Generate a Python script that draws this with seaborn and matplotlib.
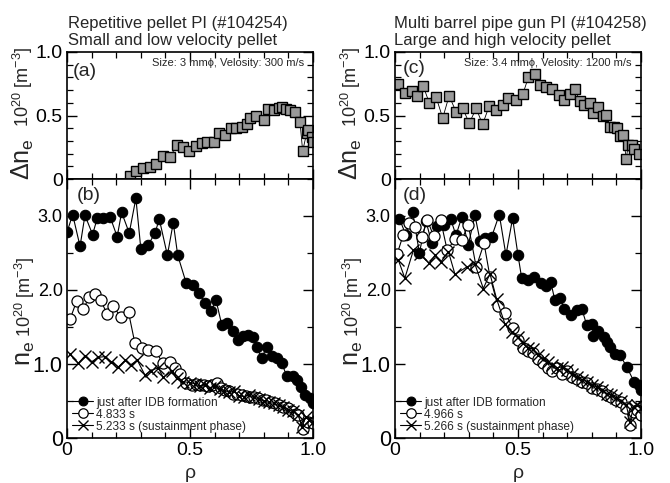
import matplotlib
matplotlib.use("Agg")
import matplotlib.pyplot as plt
from matplotlib.ticker import MultipleLocator, FixedLocator
import seaborn as sns

# ---------------- data ----------------
# (a) repetitive pellet: delta n_e
rho_a = [0.256, 0.28, 0.31, 0.337, 0.362, 0.39, 0.419, 0.448, 0.47, 0.497, 0.524, 0.547, 0.57,
         0.598, 0.619, 0.642, 0.667, 0.687, 0.71, 0.73, 0.744, 0.768, 0.80, 0.818, 0.84, 0.86,
         0.873, 0.89, 0.906, 0.927, 0.947, 0.958, 0.974, 0.98, 0.995, 1.0]
dn_a = [0.026, 0.063, 0.09, 0.097, 0.12, 0.18, 0.176, 0.27, 0.25, 0.22, 0.26, 0.28, 0.29,
        0.29, 0.36, 0.35, 0.40, 0.40, 0.41, 0.43, 0.48, 0.50, 0.465, 0.55, 0.54, 0.56,
        0.57, 0.55, 0.54, 0.53, 0.45, 0.22, 0.36, 0.385, 0.33, 0.29]

# (c) multi barrel pipe gun: delta n_e
rho_c = [0.013, 0.04, 0.068, 0.09, 0.115, 0.14, 0.167, 0.194, 0.22, 0.248, 0.275, 0.302, 0.33,
         0.356, 0.383, 0.41, 0.438, 0.46, 0.49, 0.52, 0.542, 0.57, 0.59, 0.614, 0.64, 0.668,
         0.687, 0.71, 0.73, 0.752, 0.768, 0.793, 0.804, 0.827, 0.844, 0.858, 0.874, 0.89,
         0.904, 0.915, 0.928, 0.94, 0.948, 0.962, 0.972, 0.99]
dn_c = [0.75, 0.675, 0.695, 0.65, 0.73, 0.595, 0.645, 0.48, 0.655, 0.53, 0.556, 0.44, 0.556,
        0.43, 0.575, 0.545, 0.58, 0.635, 0.62, 0.67, 0.80, 0.825, 0.74, 0.725, 0.71, 0.66,
        0.62, 0.67, 0.71, 0.615, 0.58, 0.595, 0.52, 0.57, 0.50, 0.505, 0.41, 0.41,
        0.40, 0.335, 0.345, 0.155, 0.27, 0.27, 0.24, 0.20]

# (b) n_e profiles, shot #104254
rho_b1 = [0.0, 0.023, 0.053, 0.073, 0.104, 0.123, 0.148, 0.175, 0.204, 0.222, 0.253, 0.28, 0.30,
          0.33, 0.358, 0.375, 0.408, 0.432, 0.45, 0.484, 0.511, 0.538, 0.561, 0.584, 0.606,
          0.629, 0.652, 0.673, 0.696, 0.717, 0.737, 0.757, 0.771, 0.791, 0.812, 0.832, 0.852,
          0.873, 0.893, 0.917, 0.934, 0.95, 0.967, 0.988, 1.0]
n_b1 = [2.78, 3.02, 2.59, 3.01, 2.75, 2.97, 2.97, 2.99, 2.72, 3.05, 2.77, 3.24, 2.56,
        2.61, 2.77, 2.96, 2.47, 2.91, 2.47, 2.10, 2.07, 1.96, 1.82, 1.71, 1.86,
        1.53, 1.56, 1.45, 1.33, 1.38, 1.39, 1.37, 1.23, 1.08, 1.23, 1.11, 1.08,
        1.01, 0.84, 0.84, 0.78, 0.69, 0.58, 0.535, 0.47]

rho_b2 = [0.013, 0.039, 0.066, 0.09, 0.114, 0.137, 0.164, 0.188, 0.218, 0.25, 0.276, 0.304,
          0.33, 0.362, 0.389, 0.419, 0.439, 0.459, 0.484, 0.51, 0.525, 0.54, 0.555, 0.574,
          0.59, 0.61, 0.625, 0.642, 0.66, 0.676, 0.693, 0.71, 0.727, 0.744, 0.76, 0.778,
          0.795, 0.81, 0.828, 0.846, 0.863, 0.88, 0.897, 0.913, 0.93, 0.94, 0.96, 0.98, 1.0]
n_b2 = [1.61, 1.85, 1.74, 1.90, 1.94, 1.86, 1.67, 1.79, 1.63, 1.70, 1.28, 1.21,
        1.19, 1.17, 1.01, 1.03, 0.94, 0.87, 0.74, 0.72, 0.73, 0.72, 0.71, 0.70,
        0.72, 0.74, 0.68, 0.65, 0.63, 0.60, 0.60, 0.58, 0.57, 0.56, 0.56, 0.54,
        0.52, 0.51, 0.49, 0.47, 0.45, 0.42, 0.40, 0.36, 0.33, 0.31, 0.12, 0.22, 0.20]

rho_b3 = [0.012, 0.046, 0.073, 0.10, 0.127, 0.154, 0.18, 0.209, 0.236, 0.259, 0.286, 0.317,
          0.34, 0.371, 0.391, 0.426, 0.446, 0.473, 0.50, 0.52, 0.54, 0.56, 0.58, 0.60, 0.62,
          0.64, 0.66, 0.68, 0.70, 0.72, 0.74, 0.76, 0.78, 0.80, 0.82, 0.84, 0.86, 0.88, 0.90,
          0.92, 0.94, 0.955, 0.97, 0.985, 1.0]
n_b3 = [1.13, 1.01, 1.11, 1.03, 1.09, 1.10, 1.03, 0.96, 1.05, 0.99, 1.05, 0.85,
        0.91, 0.95, 0.82, 0.90, 0.81, 0.76, 0.75, 0.73, 0.70, 0.72, 0.68, 0.70, 0.66,
        0.64, 0.62, 0.63, 0.57, 0.56, 0.58, 0.55, 0.53, 0.50, 0.48, 0.47, 0.44, 0.42, 0.38,
        0.36, 0.31, 0.15, 0.28, 0.25, 0.22]

# (d) n_e profiles, shot #104258
rho_d1 = [0.018, 0.045, 0.072, 0.099, 0.126, 0.149, 0.169, 0.199, 0.226, 0.248, 0.271, 0.298,
          0.325, 0.346, 0.366, 0.393, 0.424, 0.451, 0.478, 0.50, 0.515, 0.542, 0.565, 0.592,
          0.614, 0.633, 0.65, 0.671, 0.687, 0.714, 0.738, 0.759, 0.779, 0.80, 0.804, 0.826,
          0.85, 0.863, 0.874, 0.894, 0.915, 0.942, 0.972, 0.99, 1.0]
n_d1 = [2.96, 2.74, 3.05, 2.50, 2.93, 2.64, 2.86, 2.88, 2.96, 2.74, 2.98, 2.61,
        3.01, 2.66, 2.70, 2.72, 3.02, 2.47, 2.97, 2.47, 2.16, 2.14, 2.17, 2.09,
        2.05, 2.11, 1.86, 1.89, 1.75, 1.66, 1.73, 1.75, 1.53, 1.54, 1.38, 1.44,
        1.37, 1.30, 1.23, 1.14, 1.12, 0.96, 0.76, 0.72, 0.65]

rho_d2 = [0.008, 0.034, 0.058, 0.081, 0.108, 0.132, 0.157, 0.185, 0.212, 0.245, 0.272, 0.298,
          0.33, 0.362, 0.386, 0.418, 0.447, 0.48, 0.50, 0.52, 0.54, 0.56, 0.58, 0.60, 0.62,
          0.64, 0.66, 0.68, 0.70, 0.72, 0.74, 0.76, 0.78, 0.80, 0.82, 0.84, 0.86, 0.88, 0.90,
          0.92, 0.94, 0.955, 0.97, 0.985, 1.0]
n_d2 = [2.48, 2.75, 2.90, 2.85, 2.72, 2.94, 2.73, 2.95, 2.54, 2.69, 2.68, 2.88,
        2.31, 2.63, 2.18, 1.79, 1.69, 1.48, 1.33, 1.22, 1.18, 1.15, 1.07, 1.01, 0.95,
        0.91, 0.95, 0.86, 0.90, 0.82, 0.80, 0.76, 0.74, 0.68, 0.66, 0.63, 0.58, 0.55, 0.52,
        0.48, 0.40, 0.18, 0.35, 0.38, 0.31]

rho_d3 = [0.013, 0.04, 0.075, 0.102, 0.138, 0.163, 0.187, 0.217, 0.244, 0.291, 0.325, 0.359,
          0.386, 0.413, 0.447, 0.474, 0.50, 0.52, 0.54, 0.56, 0.58, 0.60, 0.62, 0.64, 0.66,
          0.68, 0.70, 0.72, 0.74, 0.76, 0.78, 0.80, 0.82, 0.84, 0.86, 0.88, 0.90, 0.92, 0.94,
          0.955, 0.97, 0.985, 1.0]
n_d3 = [2.41, 2.16, 2.54, 2.49, 2.36, 2.47, 2.38, 2.52, 2.21, 2.31, 2.35, 2.02,
        2.22, 1.88, 1.54, 1.43, 1.36, 1.28, 1.22, 1.20, 1.12, 1.07, 1.03, 0.98, 0.95,
        0.96, 0.92, 0.87, 0.82, 0.79, 0.76, 0.71, 0.69, 0.65, 0.60, 0.58, 0.54, 0.50, 0.45,
        0.22, 0.42, 0.45, 0.40]

titles_left = ["Repetitive pellet PI (#104254)", "Small and low velocity pellet"]
titles_right = ["Multi barrel pipe gun PI (#104258)", "Large and high velocity pellet"]
size_left = "Size: 3 mmϕ, Velosity: 300 m/s"
size_right = "Size: 3.4 mmϕ, Velosity: 1200 m/s"
legend_left = ["just after IDB formation", "4.833 s", "5.233 s (sustainment phase)"]
legend_right = ["just after IDB formation", "4.966 s", "5.266 s (sustainment phase)"]

# ---------------- style ----------------
sns.set_style("ticks")
plt.rcParams["font.family"] = ["Liberation Sans", "DejaVu Sans"]
plt.rcParams["mathtext.fontset"] = "custom"
plt.rcParams["mathtext.rm"] = "Liberation Sans"
plt.rcParams["mathtext.it"] = "Liberation Sans:italic"
plt.rcParams["mathtext.default"] = "regular"

W, H = 670, 483
fig = plt.figure(figsize=(W / 100, H / 100), dpi=100)


def ax_at(x0, y0, x1, y1):
    return fig.add_axes([x0 / W, 1 - y1 / H, (x1 - x0) / W, (y1 - y0) / H])


def style_axes(ax, top):
    for s in ax.spines.values():
        s.set_linewidth(1.2)
        s.set_color("black")
    ax.set_xlim(0, 1.0)
    ax.xaxis.set_major_locator(FixedLocator([0, 0.5, 1.0]))
    ax.xaxis.set_minor_locator(MultipleLocator(0.1))
    ax.tick_params(which="both", direction="in", top=True, right=True, colors="black")
    ax.tick_params(which="major", length=7, width=1.0)
    ax.tick_params(which="minor", length=4, width=0.9)
    if top:
        ax.set_ylim(0, 1.0)
        ax.yaxis.set_major_locator(FixedLocator([0, 0.5, 1.0]))
        ax.yaxis.set_minor_locator(MultipleLocator(0.1))
        ax.set_yticklabels(["0", "0.5", "1.0"], fontsize=14)
        ax.set_xticklabels([])
    else:
        ax.set_ylim(0, 3.5)
        ax.yaxis.set_major_locator(FixedLocator([0, 1.0, 2.0, 3.0]))
        ax.yaxis.set_minor_locator(MultipleLocator(0.5))
        ax.set_yticklabels(["0", "1.0", "2.0", "3.0"])
        for lab, fs in zip(ax.get_yticklabels(), [15.5, 15.5, 13, 13]):
            lab.set_fontsize(fs)
        ax.set_xticklabels(["0", "0.5", "1.0"], fontsize=14)
    ax.tick_params(axis="both", which="major", pad=3)
    ax.set_xlabel("")
    ax.set_ylabel("")


def top_panel(ax, rho, dn):
    sns.lineplot(x=rho, y=dn, ax=ax, color="black", lw=0.6, marker="s", markersize=7.6,
                 markerfacecolor="#999999", markeredgecolor="black", markeredgewidth=1.0,
                 estimator=None, sort=False, legend=False)


def bottom_panel(ax, r1, n1, r2, n2, r3, n3, labels):
    sns.lineplot(x=r1, y=n1, ax=ax, color="black", lw=0.8, marker="o", markersize=7.5,
                 markerfacecolor="black", markeredgecolor="black", markeredgewidth=0.8,
                 estimator=None, sort=False, label=labels[0])
    sns.lineplot(x=r2, y=n2, ax=ax, color="black", lw=0.8, marker="o", markersize=8,
                 markerfacecolor="white", markeredgecolor="black", markeredgewidth=0.9,
                 estimator=None, sort=False, label=labels[1])
    sns.lineplot(x=r3, y=n3, ax=ax, color="black", lw=0.8, marker="x", markersize=8,
                 markeredgecolor="black", markeredgewidth=1.0,
                 estimator=None, sort=False, label=labels[2])
    ax.legend(loc="lower left", frameon=False, fontsize=8.6, handlelength=1.7,
              handletextpad=0.3, labelspacing=0.0, borderaxespad=0.15, borderpad=0.3,
              markerscale=0.85)


axa = ax_at(67, 52, 313, 179)
axb = ax_at(67, 179, 313, 438)
axc = ax_at(395, 52, 641, 179)
axd = ax_at(395, 179, 641, 438)

top_panel(axa, rho_a, dn_a)
top_panel(axc, rho_c, dn_c)
bottom_panel(axb, rho_b1, n_b1, rho_b2, n_b2, rho_b3, n_b3, legend_left)
bottom_panel(axd, rho_d1, n_d1, rho_d2, n_d2, rho_d3, n_d3, legend_right)

for ax, t in [(axa, True), (axc, True), (axb, False), (axd, False)]:
    style_axes(ax, t)

# panel labels
axa.text(0.025, 0.85, "(a)", transform=axa.transAxes, fontsize=14, va="center", ha="left")
axb.text(0.04, 0.938, "(b)", transform=axb.transAxes, fontsize=14, va="center", ha="left")
axc.text(0.033, 0.874, "(c)", transform=axc.transAxes, fontsize=14, va="center", ha="left")
axd.text(0.033, 0.938, "(d)", transform=axd.transAxes, fontsize=14, va="center", ha="left")

axa.text(0.963, 0.913, size_left, transform=axa.transAxes, fontsize=8, va="center", ha="right")
axc.text(0.963, 0.913, size_right, transform=axc.transAxes, fontsize=8, va="center", ha="right")

# titles
for x0, lines in [(68, titles_left), (394, titles_right)]:
    fig.text(x0 / W, 1 - 28 / H, lines[0], fontsize=12, va="baseline", ha="left")
    fig.text(x0 / W, 1 - 45 / H, lines[1], fontsize=12, va="baseline", ha="left")

# y labels
for dx in (0, 328):
    fig.text((23 + dx) / W, 1 - 87 / H, "10$^{20}$ [m$^{-3}$]", fontsize=13, rotation=90,
             ha="center", va="center")
    fig.text((23 + dx) / W, 1 - 159 / H, "Δn$_{e}$", fontsize=18, rotation=90,
             ha="center", va="center")
    fig.text((25 + dx) / W, 1 - 297 / H, "10$^{20}$ [m$^{-3}$]", fontsize=13, rotation=90,
             ha="center", va="center")
    fig.text((25 + dx) / W, 1 - 353 / H, "n$_{e}$", fontsize=18, rotation=90,
             ha="center", va="center")
    fig.text((190 + dx) / W, 1 - 473 / H, "ρ", fontsize=14, ha="center", va="center")

fig.savefig("out.png", dpi=100)
